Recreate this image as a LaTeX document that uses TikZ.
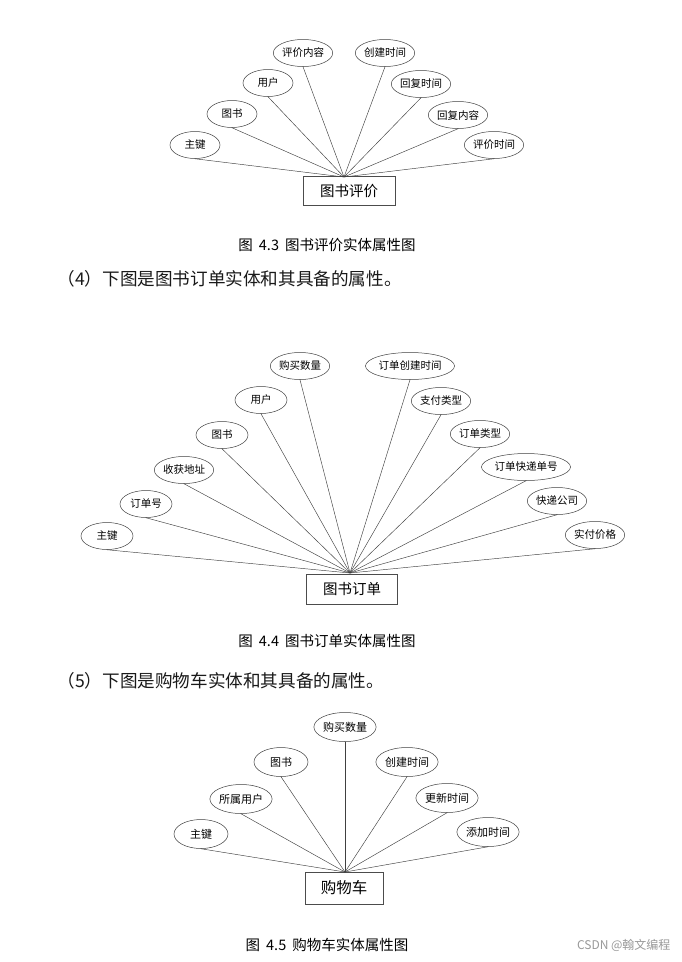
\documentclass[tikz,border=0pt]{standalone}
\usepackage{fontspec}
\setmainfont{Noto Sans CJK SC}
\usetikzlibrary{shapes.geometric}
\tikzset{
  attr/.style={ellipse, draw=black!75, line width=0.5pt, inner sep=0pt,
    minimum width=#1, minimum height=27pt, font=\fontsize{10.5}{12}\selectfont},
  attr/.default=50pt,
  attrb/.style={attr=54pt, minimum height=29pt, font=\fontsize{11}{12}\selectfont},
  entity/.style={rectangle, draw=black!70, line width=0.6pt, inner sep=0pt,
    font=\fontsize{14.5}{16}\selectfont},
  conn/.style={draw=black!75, line width=0.45pt},
  caption/.style={font=\fontsize{14.5}{16}\selectfont},
  heading/.style={anchor=west, font=\fontsize{17.6}{19}\selectfont, text=black!90},
}
\newcommand{\capsp}{\hspace{6pt}}
\begin{document}
\begin{tikzpicture}[x=1pt, y=-1pt]
\useasboundingbox[fill=white] (0,0) rectangle (681,962);

% ---------- Diagram 4.3 ----------
\node[attr] (e11) at (195,145) {主键};
\node[attr] (e12) at (232,114) {图书};
\node[attr] (e13) at (268,83) {用户};
\node[attr] (e14) at (303,53) {评价内容};
\node[attr] (e15) at (385,53) {创建时间};
\node[attr] (e16) at (421,84) {回复时间};
\node[attr] (e17) at (458,115) {回复内容};
\node[attr] (e18) at (494,145) {评价时间};
\node[entity, minimum width=92pt, minimum height=29pt] (b1) at (349,191) {图书评价};
\coordinate (p1) at (344,177);
\foreach \n in {e11,e12,e13,e14,e15,e16,e17,e18} \draw[conn] (\n.south) -- (p1);
\node[caption] (c1) at (327,245) {图\capsp 4.3\capsp 图书评价实体属性图};
\node[heading] (h1) at (54,279) {（4）下图是图书订单实体和其具备的属性。};

% ---------- Diagram 4.4 ----------
\node[attr=52pt] (e21) at (107,536) {主键};
\node[attr=52pt] (e22) at (146,504) {订单号};
\node[attr=52pt] (e23) at (184,470) {收获地址};
\node[attr=52pt] (e24) at (222,435) {图书};
\node[attr=52pt] (e25) at (261,400) {用户};
\node[attr=52pt] (e26) at (300,366) {购买数量};
\node[attr=69pt] (e27) at (410,366) {订单创建时间};
\node[attr=52pt] (e28) at (441,401) {支付类型};
\node[attr=52pt] (e29) at (480,434) {订单类型};
\node[attr=69pt] (e210) at (526,467) {订单快递单号};
\node[attr=52pt] (e211) at (557,501) {快递公司};
\node[attr=52pt] (e212) at (595,535) {实付价格};
\node[entity, minimum width=91pt, minimum height=30pt] (b2) at (352,589) {图书订单};
\coordinate (p2) at (350,573);
\foreach \n in {e21,e22,e23,e24,e25,e26,e27,e28,e29,e210,e211,e212} \draw[conn] (\n.south) -- (p2);
\node[caption] (c2) at (327,641) {图\capsp 4.4\capsp 图书订单实体属性图};
\node[heading] (h2) at (54,681) {（5）下图是购物车实体和其具备的属性。};

% ---------- Diagram 4.5 ----------
\node[attrb] (e31) at (201,834) {主键};
\node[attrb] (e32) at (241,799) {所属用户};
\node[attrb] (e33) at (281,762) {图书};
\node[attrb] (e34) at (345,727) {购买数量};
\node[attrb] (e35) at (407,762) {创建时间};
\node[attrb] (e36) at (447,798) {更新时间};
\node[attrb] (e37) at (488,832) {添加时间};
\node[entity, minimum width=78pt, minimum height=32pt, font=\fontsize{15.5}{17}\selectfont] (b3) at (344,888) {购物车};
\coordinate (p3) at (345,872);
\foreach \n in {e31,e32,e33,e34,e35,e36,e37} \draw[conn] (\n.south) -- (p3);
\node[caption] (c3) at (327,945) {图\capsp 4.5\capsp 购物车实体属性图};
\node[anchor=east, text=black!40, font=\fontsize{12}{14}\selectfont] (wm) at (674,945) {CSDN @翰文编程};
\end{tikzpicture}
\end{document}
